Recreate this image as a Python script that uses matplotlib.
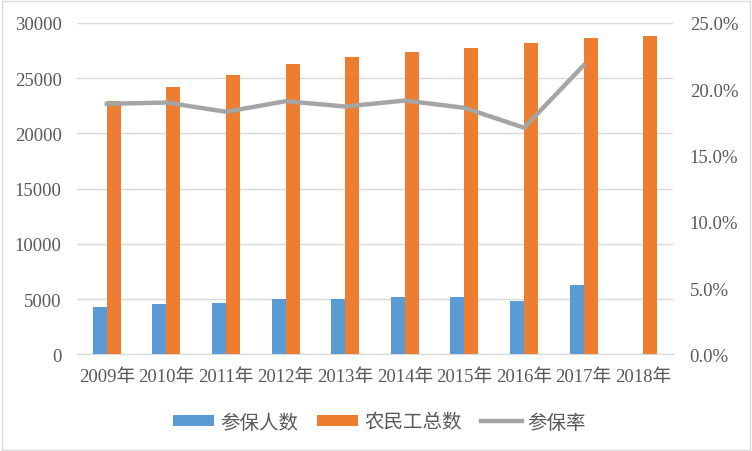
import matplotlib
matplotlib.use('Agg')
import matplotlib.pyplot as plt
import numpy as np
from matplotlib.patches import Rectangle

years = ['2009年', '2010年', '2011年', '2012年', '2013年', '2014年', '2015年', '2016年', '2017年', '2018年']
insured = [4336, 4583, 4626, 5008, 5029, 5246, 5161, 4845, 6246, np.nan]
total = [22978, 24223, 25278, 26261, 26894, 27395, 27747, 28171, 28652, 28836]
rate = [0.189, 0.190, 0.183, 0.191, 0.187, 0.1915, 0.186, 0.171, 0.218, np.nan]

plt.rcParams['font.family'] = ['Liberation Serif', 'Noto Sans CJK SC']
txt = '#595959'
fs = 13.5

fig = plt.figure(figsize=(7.52, 4.52), dpi=100)
ax = fig.add_axes([0.1024, 0.2135, 0.7926, 0.7335])
ax2 = ax.twinx()

x = np.arange(len(years))
w = 0.235
ax.bar(x - w / 2, insured, w, color='#5b9bd5', label='参保人数', zorder=3)
ax.bar(x + w / 2, total, w, color='#ed7d31', label='农民工总数', zorder=3)
ax2.plot(x, rate, color='#a5a5a5', lw=3.2, label='参保率', zorder=4)

ax.set_xlim(-0.5, len(years) - 0.5)
ax.set_ylim(0, 30000)
ax.set_yticks(range(0, 30001, 5000))
ax2.set_ylim(0, 0.25)
ax2.set_yticks(np.arange(0, 0.2501, 0.05))
ax2.set_yticklabels([f'{v * 100:.1f}%' for v in np.arange(0, 0.2501, 0.05)])
ax.set_xticks(x)
ax.set_xticklabels(years)

ax.grid(axis='y', color='#d9d9d9', lw=1, zorder=0)
for a in [ax, ax2]:
    for s in a.spines.values():
        s.set_visible(False)
ax.spines['bottom'].set_visible(True)
ax.spines['bottom'].set_color('#d9d9d9')
ax.tick_params(axis='both', length=0, colors=txt, labelsize=fs)
ax.tick_params(axis='y', pad=11)
ax.tick_params(axis='x', pad=10)
ax2.tick_params(axis='y', length=0, colors=txt, labelsize=fs, pad=12)

h1, l1 = ax.get_legend_handles_labels()
h2, l2 = ax2.get_legend_handles_labels()
leg = fig.legend(h1 + h2, l1 + l2, loc='center', bbox_to_anchor=(0.505, 0.063), ncol=3,
                 frameon=False, handlelength=2.1, handleheight=0.5, handletextpad=0.3,
                 columnspacing=1.0, fontsize=14)
for t in leg.get_texts():
    t.set_color(txt)

fig.patches.append(Rectangle((0.002, 0.003), 0.995, 0.993, transform=fig.transFigure,
                             fill=False, ec='#d9d9d9', lw=1))

fig.savefig('out.png', dpi=100)
